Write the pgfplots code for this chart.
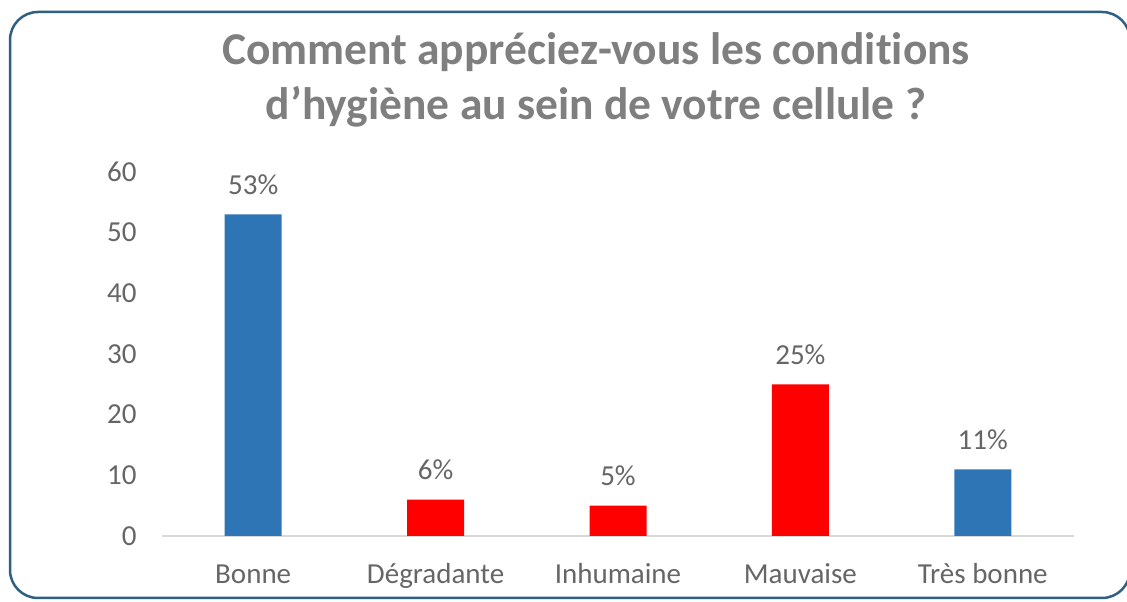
\documentclass[border=0pt]{standalone}
\usepackage{pgfplots}
\pgfplotsset{compat=1.18}
\usepackage{fontspec}
\setmainfont{Carlito}[Ligatures=NoCommon]
\definecolor{barblue}{HTML}{2E75B6}
\definecolor{barred}{HTML}{FF0000}
\definecolor{boxblue}{HTML}{2F5F85}
\definecolor{titlegray}{HTML}{7F7F7F}
\definecolor{labelgray}{HTML}{666666}
\definecolor{basegray}{HTML}{D9D9D9}

\begin{document}
\begin{tikzpicture}
\clip (0,0) rectangle (1127pt,602pt);
\fill[white] (0,0) rectangle (1127pt,602pt);
\draw[boxblue, line width=2.5pt, rounded corners=28pt] (10pt,4pt) rectangle (1130pt,590pt);

\node[anchor=base, text=titlegray, font=\fontsize{45.5}{52}\selectfont\bfseries] at (596pt,537pt)
  {Comment appréciez-vous les conditions};
\node[anchor=base, text=titlegray, font=\fontsize{45.5}{52}\selectfont\bfseries] at (596pt,482pt)
  {d’hygiène au sein de votre cellule ?};

\begin{axis}[
  at={(162pt,66pt)}, anchor=south west,
  scale only axis,
  width=912pt, height=364pt,
  xmin=-0.5, xmax=4.5,
  ymin=0, ymax=60,
  axis y line*=left, axis x line*=bottom,
  y axis line style={draw=none},
  x axis line style={draw=basegray, line width=1.5pt},
  axis line style={-},
  xtick={0,1,2,3,4},
  xticklabels={Bonne, Dégradante, Inhumaine, Mauvaise, Très bonne},
  ytick={0,10,20,30,40,50,60},
  major tick length=0pt,
  tick label style={font=\fontsize{29}{34}\selectfont, text=labelgray},
  /pgf/number format/assume math mode=true,
  xticklabel style={anchor=base, yshift=-48pt},
  yticklabel style={xshift=-22pt},
  ybar, bar width=57pt, bar shift=0pt,
  nodes near coords={\pgfmathprintnumber{\pgfplotspointmeta}\%},
  nodes near coords style={font=\fontsize{29}{34}\selectfont, text=labelgray, yshift=16pt},
]
\addplot[fill=barblue, draw=none] coordinates {(0,53) (4,11)};
\addplot[fill=barred, draw=none] coordinates {(1,6) (2,5) (3,25)};
\end{axis}
\end{tikzpicture}
\end{document}
